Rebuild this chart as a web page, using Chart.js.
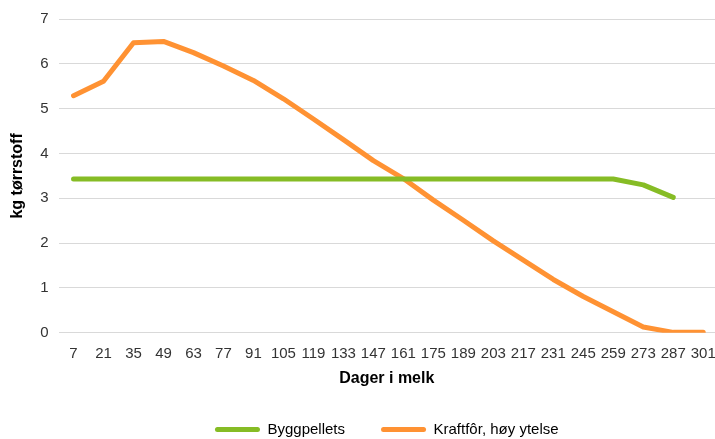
<!DOCTYPE html>
<html>
<head>
<meta charset="utf-8">
<script src="https://cdn.jsdelivr.net/npm/chart.js@4/dist/chart.umd.min.js"></script>
<style>
  html, body { margin: 0; padding: 0; background: #fff; }
  #wrap { width: 715px; height: 439px; }
</style>
</head>
<body>
<div id="wrap"><canvas id="c" width="715" height="439"></canvas></div>
<script>
// Days in milk (x categories)
const days = [7, 21, 35, 49, 63, 77, 91, 105, 119, 133, 147, 161, 175, 189, 203, 217, 231, 245, 259, 273, 287, 301];

// kg dry matter per day
const byggpellets = [3.43, 3.43, 3.43, 3.43, 3.43, 3.43, 3.43, 3.43, 3.43, 3.43, 3.43, 3.43, 3.43, 3.43, 3.43, 3.43, 3.43, 3.43, 3.43, 3.30, 3.02, null];
const kraftfor = [5.29, 5.61, 6.47, 6.50, 6.25, 5.95, 5.63, 5.22, 4.77, 4.31, 3.84, 3.44, 2.96, 2.51, 2.05, 1.62, 1.19, 0.81, 0.47, 0.13, 0.01, 0.01];

const seriesNames = ['Byggpellets', 'Kraftfôr, høy ytelse'];
const yTicks = [0, 1, 2, 3, 4, 5, 6, 7];

const toPoints = vals => days.map((d, i) => ({ x: d, y: vals[i] }));

const font = "'Liberation Sans', Arial, sans-serif";

new Chart(document.getElementById('c'), {
  type: 'line',
  data: {
    datasets: [
      {
        label: seriesNames[0],
        data: toPoints(byggpellets),
        borderColor: '#86bc25',
        backgroundColor: '#86bc25',
        borderWidth: 5,
        pointRadius: 0,
        borderCapStyle: 'round',
        borderJoinStyle: 'round',
        tension: 0
      },
      {
        label: seriesNames[1],
        data: toPoints(kraftfor),
        borderColor: '#ff9233',
        backgroundColor: '#ff9233',
        borderWidth: 5,
        pointRadius: 0,
        borderCapStyle: 'round',
        borderJoinStyle: 'round',
        tension: 0
      }
    ]
  },
  options: {
    responsive: false,
    animation: false,
    layout: { padding: { top: 16, right: 0, left: 8, bottom: -8 } },
    plugins: {
      tooltip: { enabled: false },
      legend: {
        position: 'bottom',
        fullSize: false,
        labels: {
          boxWidth: 45,
          boxHeight: 5,
          useBorderRadius: true,
          borderRadius: 2.5,
          padding: 36,
          color: '#333',
          font: { family: font, size: 15 },
          generateLabels(chart) {
            return chart.data.datasets.map((ds, i) => ({
              text: ds.label,
              fillStyle: ds.borderColor,
              strokeStyle: ds.borderColor,
              lineWidth: 0,
              borderRadius: 2.5,
              datasetIndex: i,
              hidden: false
            }));
          }
        }
      }
    },
    scales: {
      x: {
        type: 'linear',
        min: 0,
        max: 306.5,
        afterBuildTicks(scale) {
          scale.ticks = days.map(d => ({ value: d }));
        },
        // the plot runs to the right edge; the last label still fits
        afterFit(scale) {
          scale.paddingRight = 0;
          scale.paddingLeft = 0;
        },
        grid: { display: false, drawTicks: false },
        border: { display: false },
        ticks: {
          autoSkip: false,
          maxRotation: 0,
          padding: 12,
          color: '#333',
          font: { family: font, size: 15 },
          callback: v => String(v)
        },
        title: {
          display: true,
          text: 'Dager i melk',
          color: '#000',
          font: { family: font, size: 16, weight: 'bold' },
          padding: { top: -6, bottom: -2 }
        }
      },
      y: {
        min: 0,
        max: 7,
        afterBuildTicks(scale) {
          scale.ticks = yTicks.map(v => ({ value: v }));
        },
        grid: { color: '#d9d9d9', lineWidth: 1, drawTicks: false },
        border: { display: false },
        ticks: {
          padding: 10,
          color: '#333',
          font: { family: font, size: 15 }
        },
        title: {
          display: true,
          text: 'kg tørrstoff',
          color: '#000',
          font: { family: font, size: 16, weight: 'bold' },
          padding: { top: 0, bottom: 3 }
        }
      }
    }
  }
});
</script>
</body>
</html>
